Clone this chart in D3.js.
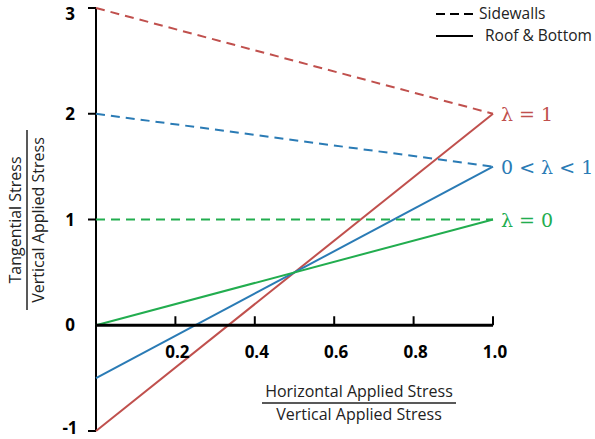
<!DOCTYPE html>
<html>
<head>
<meta charset="utf-8">
<script src="https://cdn.jsdelivr.net/npm/d3@7"></script>
<style>
  body { margin: 0; background: #fff; }
  svg { display: block; }
</style>
</head>
<body>
<div id="T"></div>
<script>
// data
const lambdas = ["λ = 1", "0 < λ < 1", "λ = 0"];
const colours = ["#c0504d", "#2a7bb5", "#22ad4f"];
const sidewallStart = [3, 2, 1];
const sidewallEnd = [2, 1.5, 1];
const roofStart = [-1, -0.5, 0];
const roofEnd = [2, 1.5, 1];
const xTicks = [0.2, 0.4, 0.6, 0.8, 1.0];
const yTicks = [-1, 0, 1, 2, 3];

const W = 595, H = 439;
const SVG = d3.select('#T').append('svg')
    .attr("width", W)
    .attr("height", H);

const x = d3.scaleLinear().domain([0, 1]).range([96, 493]);
const y = d3.scaleLinear().domain([-1, 3]).range([431, 8]);

const lbl = "'Open Sans', 'Liberation Sans', sans-serif";

// y axis
SVG.append("line")
    .attr("x1", x(0)).attr("x2", x(0))
    .attr("y1", y(3)).attr("y2", y(-1))
    .attr("stroke", "#000").attr("stroke-width", 2);
yTicks.forEach(t => {
    if (t !== 0) {
        SVG.append("line")
            .attr("x1", x(0) - 8).attr("x2", x(0))
            .attr("y1", y(t)).attr("y2", y(t))
            .attr("stroke", "#000").attr("stroke-width", 2);
    }
    SVG.append("text")
        .attr("x", 70).attr("y", Math.min(Math.max(y(t) + 6, 20), 434))
        .attr("text-anchor", "middle")
        .style("font-family", lbl).style("font-weight", "bold").style("font-size", "17px")
        .text(t);
});

// lines
const line = d3.line().x(d => x(d[0])).y(d => y(d[1]));
lambdas.forEach((l, i) => {
    SVG.append("path")
        .attr("d", line([[0, sidewallStart[i]], [1, sidewallEnd[i]]]))
        .attr("stroke", colours[i]).attr("stroke-width", 2).attr("fill", "none")
        .attr("stroke-dasharray", "9,6");
    SVG.append("path")
        .attr("d", line([[0, roofStart[i]], [1, roofEnd[i]]]))
        .attr("stroke", colours[i]).attr("stroke-width", 2).attr("fill", "none");
});

// x axis (drawn on top)
SVG.append("line")
    .attr("x1", x(0)).attr("x2", x(1))
    .attr("y1", y(0)).attr("y2", y(0))
    .attr("stroke", "#000").attr("stroke-width", 3);
xTicks.forEach(t => {
    SVG.append("line")
        .attr("x1", x(t)).attr("x2", x(t))
        .attr("y1", y(0) - 9).attr("y2", y(0))
        .attr("stroke", "#000").attr("stroke-width", 2);
    SVG.append("text")
        .attr("x", x(t) + 2).attr("y", y(0) + 33)
        .attr("text-anchor", "middle")
        .style("font-family", lbl).style("font-weight", "bold").style("font-size", "17px")
        .text(t.toFixed(1));
});

// lambda labels
lambdas.forEach((l, i) => {
    SVG.append("text")
        .attr("x", x(1) + 8).attr("y", y(roofEnd[i]) + 7)
        .attr("fill", colours[i])
        .style("font-family", "'DejaVu Serif', 'Liberation Serif', serif")
        .style("font-size", "19px")
        .text(l);
});

// axis titles as fractions
function fraction(cx, cy, top, bottom, w, rotate) {
    const g = SVG.append("g")
        .attr("transform", `translate(${cx},${cy})` + (rotate ? " rotate(-90)" : ""));
    g.append("text").attr("y", -6).attr("text-anchor", "middle")
        .style("font-family", lbl).style("font-size", "16px").attr("fill", "#222")
        .text(top);
    g.append("line").attr("x1", -w / 2).attr("x2", w / 2)
        .attr("stroke", "#222").attr("stroke-width", 1.5);
    g.append("text").attr("y", 17).attr("text-anchor", "middle")
        .style("font-family", lbl).style("font-size", "16px").attr("fill", "#222")
        .text(bottom);
}
fraction(359, 403, "Horizontal Applied Stress", "Vertical Applied Stress", 194, false);
fraction(27, 220, "Tangential Stress", "Vertical Applied Stress", 180, true);

// legend
SVG.append("line")
    .attr("x1", 436).attr("x2", 478).attr("y1", 14).attr("y2", 14)
    .attr("stroke", "#000").attr("stroke-width", 2).attr("stroke-dasharray", "9,5");
SVG.append("text").attr("x", 479).attr("y", 19)
    .style("font-family", lbl).style("font-size", "15.5px").attr("fill", "#222")
    .text("Sidewalls");
SVG.append("line")
    .attr("x1", 436).attr("x2", 473).attr("y1", 36).attr("y2", 36)
    .attr("stroke", "#000").attr("stroke-width", 2);
SVG.append("text").attr("x", 485).attr("y", 41)
    .style("font-family", lbl).style("font-size", "15.5px").attr("fill", "#222")
    .text("Roof & Bottom");
</script>
</body>
</html>
